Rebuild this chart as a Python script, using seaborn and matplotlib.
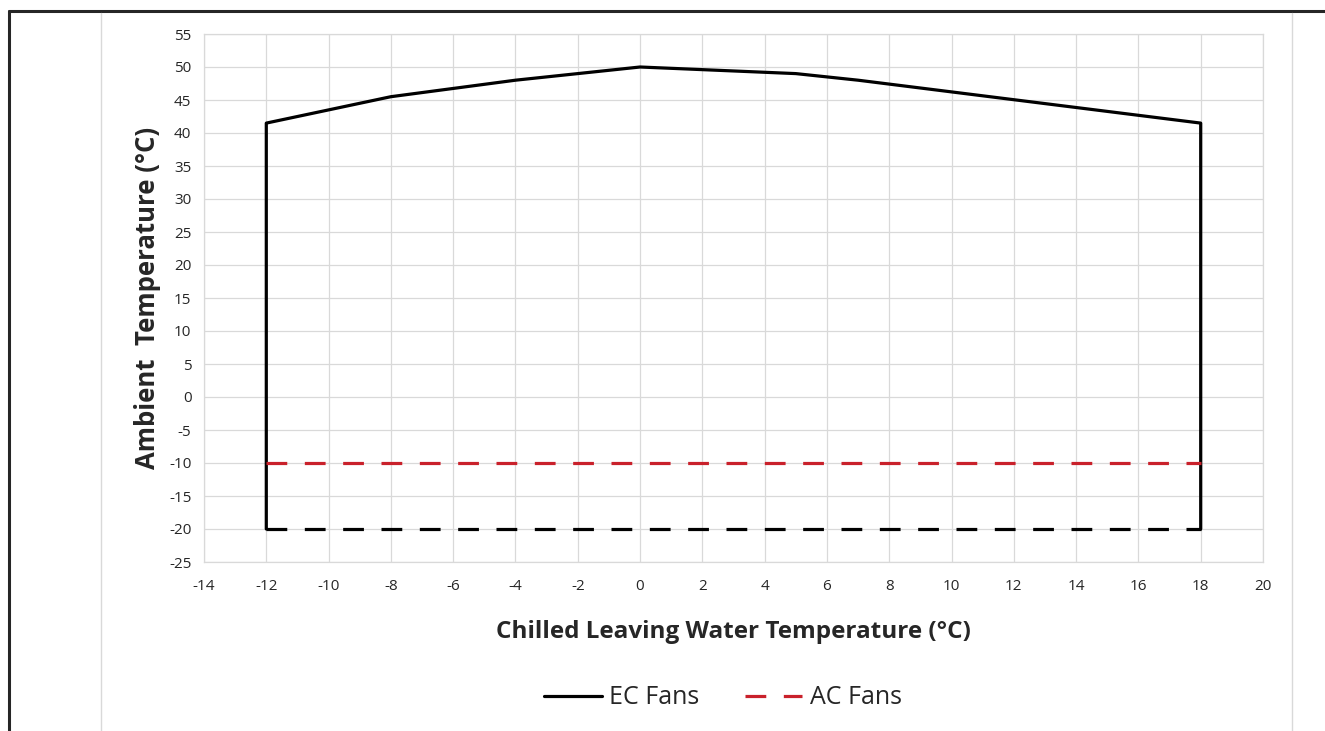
import matplotlib
matplotlib.use("Agg")
import matplotlib.pyplot as plt
from matplotlib.lines import Line2D
import seaborn as sns

# Operating envelope, EC fans (upper boundary)
ec_x = [-12, -12, -8, -4, 0, 5, 7, 18, 18]
ec_y = [-20, 41.5, 45.5, 48, 50, 49, 48, 41.5, -20]

# Lower limit for EC fans
ec_low_x = [-12, 18]
ec_low_y = [-20, -20]

# Lower limit for AC fans
ac_x = [-12, 18]
ac_y = [-10, -10]

x_ticks = list(range(-14, 21, 2))
y_ticks = list(range(-25, 56, 5))

RED = "#C9212B"
GRID = "#D9D9D9"
TXT = "#262626"

sns.set_style("white")
plt.rcParams["font.family"] = ["Open Sans", "DejaVu Sans"]

fig = plt.figure(figsize=(13.25, 7.31), dpi=100)
ax = fig.add_axes([204 / 1325, 1 - 562 / 731, (1263 - 204) / 1325, (562 - 34) / 731])

dash = (6.5, 5.5)
lw = 2.3

sns.lineplot(x=ec_x, y=ec_y, ax=ax, color="black", linewidth=lw, sort=False,
             estimator=None)
sns.lineplot(x=ec_low_x, y=ec_low_y, ax=ax, color="black", linewidth=lw,
             estimator=None)
ax.lines[-1].set_dashes(dash)
sns.lineplot(x=ac_x, y=ac_y, ax=ax, color=RED, linewidth=lw, estimator=None)
ax.lines[-1].set_dashes(dash)

ax.set_xlim(-14, 20)
ax.set_ylim(-25, 55)
ax.set_xticks(x_ticks)
ax.set_yticks(y_ticks)
ax.set_xticklabels([str(v) for v in x_ticks])
ax.set_yticklabels([str(v) for v in y_ticks])
ax.grid(True, color=GRID, linewidth=0.9)
ax.set_axisbelow(True)
for s in ax.spines.values():
    s.set_color(GRID)
    s.set_linewidth(0.9)
ax.tick_params(axis="y", length=0, labelsize=11, colors=TXT, pad=9)
ax.tick_params(axis="x", length=0, labelsize=11, colors=TXT, pad=12)

ax.set_xlabel("Chilled Leaving Water Temperature (°C)", fontsize=17.5,
              fontweight="bold", color=TXT, labelpad=19)
ax.set_ylabel("Ambient  Temperature (°C)", fontsize=18.5, fontweight="bold",
              color=TXT, labelpad=6)

handles = [Line2D([], [], color="black", linewidth=lw),
           Line2D([], [], color=RED, linewidth=lw, dashes=dash)]
fig.legend(handles, ["EC Fans", "AC Fans"], loc="center",
           bbox_to_anchor=(723 / 1325, 1 - 698 / 731), ncol=2, frameon=False,
           fontsize=18, handlelength=2.3, handletextpad=0.3, columnspacing=1.8,
           labelcolor=TXT)

# Outer frame and chart-area guides
fig.add_artist(Line2D([9 / 1325, 9 / 1325], [0, 1 - 11 / 731],
                      transform=fig.transFigure, color="#262626", linewidth=2.2))
fig.add_artist(Line2D([9 / 1325, 1], [1 - 11 / 731, 1 - 11 / 731],
                      transform=fig.transFigure, color="#262626", linewidth=2.2))
for xp in (101, 1292):
    fig.add_artist(Line2D([xp / 1325, xp / 1325], [0, 1 - 13 / 731],
                          transform=fig.transFigure, color=GRID, linewidth=1))

fig.savefig("out.png", dpi=100, facecolor="white")
